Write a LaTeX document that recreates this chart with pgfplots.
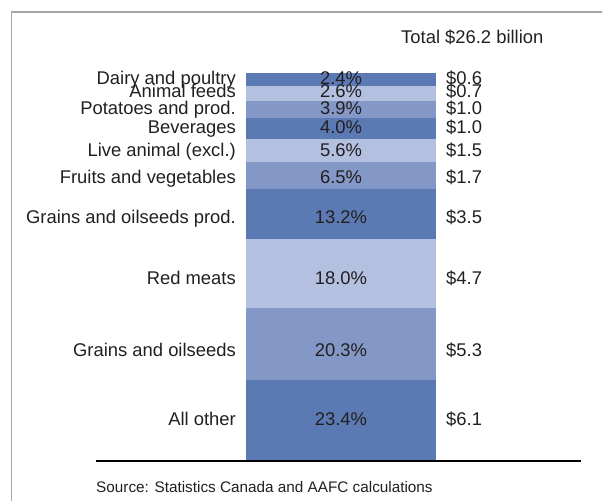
\documentclass[border=0pt]{standalone}
\usepackage{pgfplots}
\pgfplotsset{compat=1.18}
\usepackage{fontspec}
\setmainfont{Liberation Sans}
\definecolor{dk}{RGB}{91,122,180}
\definecolor{lt}{RGB}{180,192,224}
\definecolor{md}{RGB}{132,152,200}
\definecolor{txt}{RGB}{35,31,32}
\definecolor{frm}{RGB}{165,165,165}
\newcommand{\lab}{\fontsize{18.4}{18.4}\selectfont}
\newcommand{\row}[4]{%
  \node[anchor=base east,txt,font=\lab,inner sep=0pt] at (axis cs:236,#1) {#2};
  \node[anchor=base,txt,font=\lab,inner sep=0pt] at (axis cs:341,#1) {#3\%};
  \node[anchor=base west,txt,font=\lab,inner sep=0pt] at (axis cs:446,#1) {\$#4};}
\pgfplotsset{frame/.style={at={(0,0)},anchor=south west,
  width=602pt,height=501pt,scale only axis,
  xmin=0,xmax=602,ymin=0,ymax=501,y dir=reverse,
  hide axis,clip=false}}
\begin{document}
\begin{tikzpicture}
\begin{axis}[frame,ybar stacked,bar width=190pt]
% offset from top of picture (pixels)
\addplot[draw=none,fill=none] coordinates {(341,73.3)};
% segment heights as drawn (top to bottom)
\addplot[draw=none,fill=dk] coordinates {(341,12.7)}; % Dairy and poultry 2.4%
\addplot[draw=none,fill=lt] coordinates {(341,15.0)}; % Animal feeds 2.6%
\addplot[draw=none,fill=md] coordinates {(341,17.0)}; % Potatoes 3.9%
\addplot[draw=none,fill=dk] coordinates {(341,21.0)}; % Beverages 4.0%
\addplot[draw=none,fill=lt] coordinates {(341,23.0)}; % Live animal 5.6%
\addplot[draw=none,fill=md] coordinates {(341,27.0)}; % Fruits 6.5%
\addplot[draw=none,fill=dk] coordinates {(341,50.0)}; % Grains prod 13.2%
\addplot[draw=none,fill=lt] coordinates {(341,69.0)}; % Red meats 18.0%
\addplot[draw=none,fill=md] coordinates {(341,72.0)}; % Grains and oilseeds 20.3%
\addplot[draw=none,fill=dk] coordinates {(341,81.0)}; % All other 23.4%
\end{axis}
\begin{axis}[frame]
\draw[frm,line width=1.5pt] (axis cs:11.7,501) -- (axis cs:11.7,12) -- (axis cs:602,12);
\draw[black,line width=1.1pt] (axis cs:96,461) -- (axis cs:581,461);

\node[anchor=west,txt,font=\lab,inner sep=0pt] at (axis cs:401,37) {Total \$26.2 billion};
\node[anchor=west,txt,font=\fontsize{15.3}{15.3}\selectfont,inner sep=0pt] at (axis cs:96,487) {Source: Statistics Canada and AAFC calculations};

\row{84.7}{Dairy and poultry}{2.4}{0.6}
\row{97.3}{Animal feeds}{2.6}{0.7}
\row{114.3}{Potatoes and prod.}{3.9}{1.0}
\row{133.3}{Beverages}{4.0}{1.0}
\row{156.7}{Live animal (excl.)}{5.6}{1.5}
\row{183.3}{Fruits and vegetables}{6.5}{1.7}
\row{223.3}{Grains and oilseeds prod.}{13.2}{3.5}
\row{284}{Red meats}{18.0}{4.7}
\row{356}{Grains and oilseeds}{20.3}{5.3}
\row{425}{All other}{23.4}{6.1}
\end{axis}
\pgfresetboundingbox
\path[use as bounding box] (0,0) rectangle (602pt,501pt);
\end{tikzpicture}
\end{document}
